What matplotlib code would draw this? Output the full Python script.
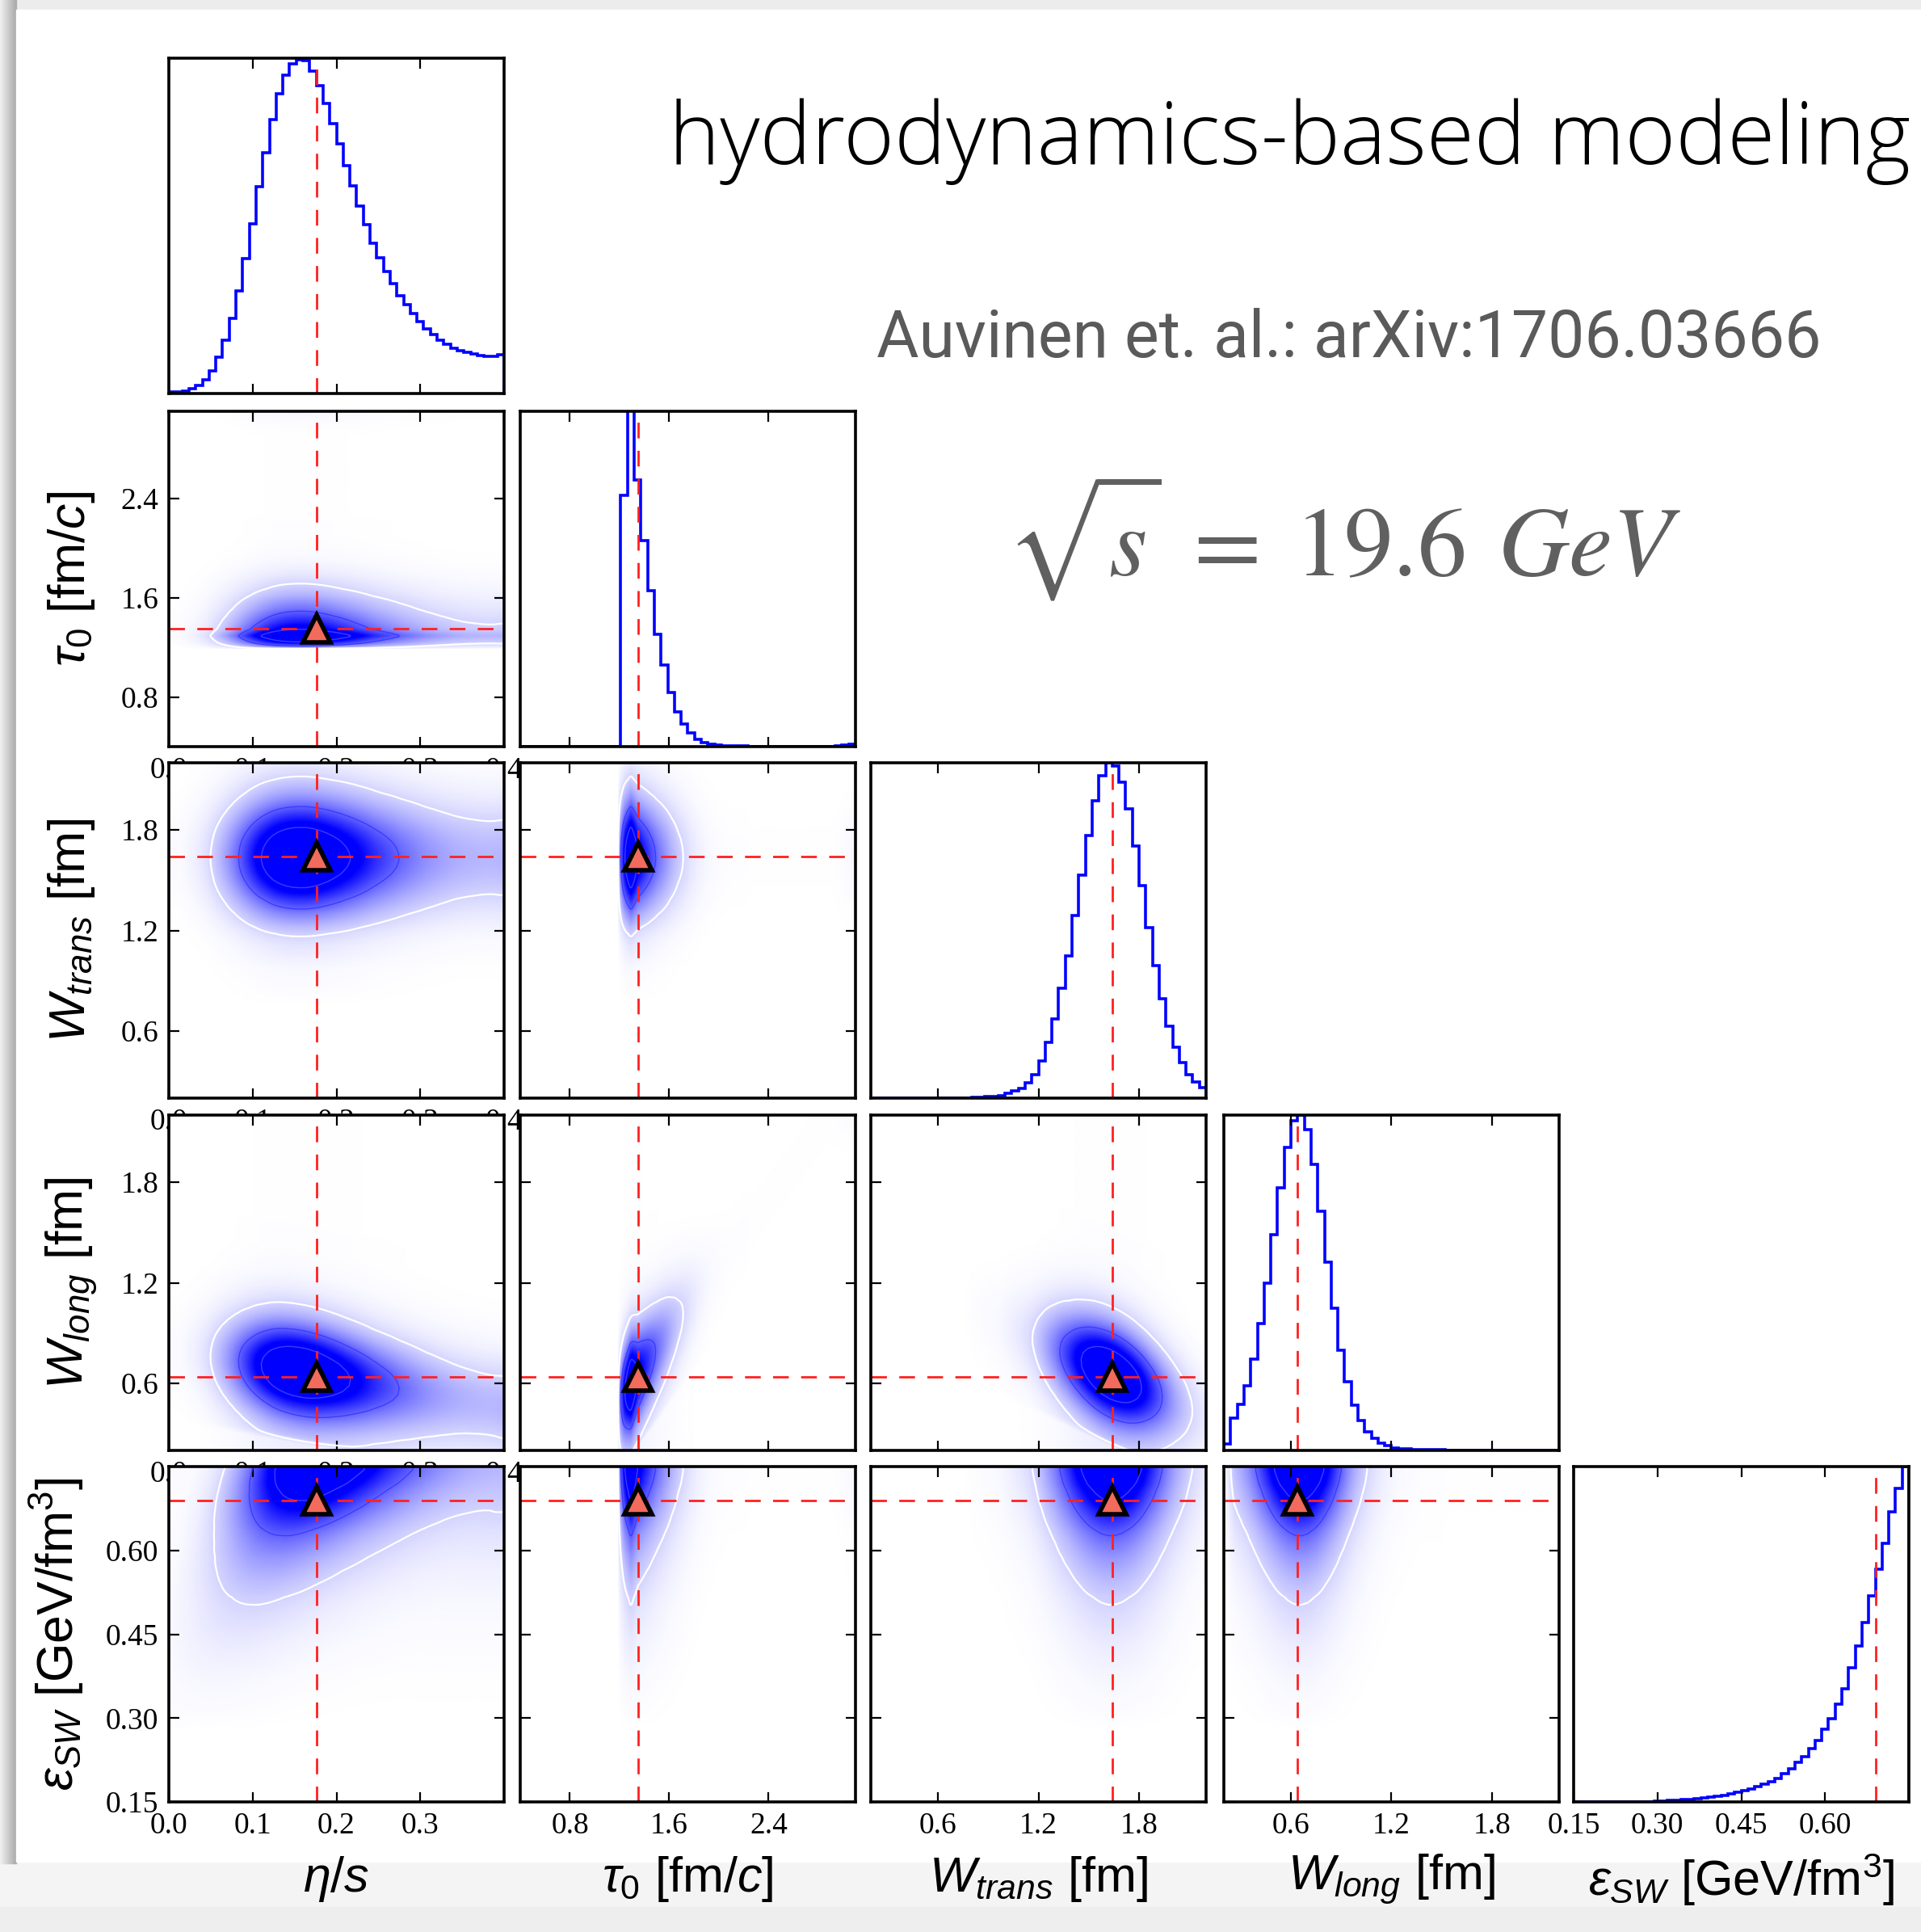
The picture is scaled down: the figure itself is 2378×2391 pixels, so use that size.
import numpy as np
import matplotlib
matplotlib.use("Agg")
import matplotlib.pyplot as plt
from matplotlib.colors import LinearSegmentedColormap, PowerNorm
from matplotlib.patches import Rectangle

plt.rcParams['mathtext.fontset'] = 'custom'
plt.rcParams['mathtext.rm'] = 'Liberation Sans'
plt.rcParams['mathtext.it'] = 'Liberation Sans:italic'
plt.rcParams['mathtext.bf'] = 'Liberation Sans:bold'

W, H = 2378, 2391

# ---- parameters of the corner plot ----
axis_labels = [r'$\eta/s$', r'$\tau_0\ [\mathrm{fm}/c]$', r'$W_{trans}\ [\mathrm{fm}]$',
               r'$W_{long}\ [\mathrm{fm}]$', r'$\epsilon_{SW}\ [\mathrm{GeV}/\mathrm{fm}^3]$']
ranges = [(0.0, 0.4), (0.4, 3.1), (0.2, 2.2), (0.2, 2.2), (0.15, 0.75)]
truth = [0.176, 1.35, 1.64, 0.64, 0.69]
tick_vals = [[0.0, 0.1, 0.2, 0.3, 0.4], [0.8, 1.6, 2.4], [0.6, 1.2, 1.8], [0.6, 1.2, 1.8],
             [0.15, 0.30, 0.45, 0.60]]
tick_text = [['0.0', '0.1', '0.2', '0.3', '0.4'], ['0.8', '1.6', '2.4'], ['0.6', '1.2', '1.8'],
             ['0.6', '1.2', '1.8'], ['0.15', '0.30', '0.45', '0.60']]

# marginal histograms, 50 bins over each range, height as fraction of panel
hist_eta = [0.004, 0.004, 0.008, 0.014, 0.024, 0.04, 0.068, 0.108, 0.158, 0.224,
            0.306, 0.402, 0.506, 0.616, 0.718, 0.818, 0.894, 0.95, 0.984, 0.994,
            0.992, 0.962, 0.918, 0.864, 0.804, 0.744, 0.68, 0.62, 0.56, 0.504,
            0.448, 0.404, 0.364, 0.328, 0.292, 0.264, 0.238, 0.214, 0.192, 0.176,
            0.16, 0.148, 0.136, 0.128, 0.122, 0.118, 0.114, 0.112, 0.112, 0.116]
hist_tau = [0, 0, 0, 0, 0, 0, 0, 0, 0, 0,
            0, 0, 0, 0, 0, 0.75, 1.3, 0.796, 0.614, 0.464,
            0.335, 0.243, 0.161, 0.104, 0.068, 0.04, 0.022, 0.012, 0.007, 0.004,
            0.003, 0.002, 0.002, 0.002, 0.001, 0.001, 0.001, 0.001, 0.001, 0.001,
            0.001, 0.001, 0.001, 0.001, 0.001, 0.001, 0.001, 0.002, 0.004, 0.008]
hist_wtrans = [0, 0, 0, 0, 0, 0, 0, 0, 0, 0,
               0, 0, 0, 0, 0.001, 0.002, 0.003, 0.004, 0.006, 0.008,
               0.014, 0.022, 0.03, 0.045, 0.07, 0.11, 0.167, 0.235, 0.328, 0.424,
               0.545, 0.665, 0.782, 0.886, 0.962, 1.0, 0.99, 0.942, 0.862, 0.753,
               0.633, 0.508, 0.396, 0.296, 0.215, 0.151, 0.107, 0.071, 0.047, 0.031]
hist_wlong = [0.02, 0.096, 0.137, 0.193, 0.273, 0.378, 0.498, 0.643, 0.783, 0.904,
              0.984, 1.0, 0.956, 0.854, 0.713, 0.562, 0.423, 0.30, 0.205, 0.134,
              0.088, 0.056, 0.036, 0.022, 0.014, 0.008, 0.006, 0.004, 0.003, 0.002,
              0.002, 0.002, 0.002, 0.001, 0.001, 0.001, 0.001, 0.001, 0.001, 0.001,
              0.001, 0.001, 0.001, 0.001, 0.001, 0.001, 0.001, 0.001, 0.001, 0.001]
hist_esw = [0, 0, 0, 0, 0, 0, 0, 0, 0, 0,
            0, 0.001, 0.002, 0.003, 0.004, 0.005, 0.0065, 0.0075, 0.009, 0.011,
            0.014, 0.017, 0.02, 0.023, 0.028, 0.033, 0.039, 0.045, 0.052, 0.061,
            0.07, 0.085, 0.099, 0.117, 0.136, 0.16, 0.183, 0.216, 0.249, 0.291,
            0.338, 0.40, 0.465, 0.535, 0.615, 0.695, 0.77, 0.864, 0.934, 1.0]
hists = [hist_eta, hist_tau, hist_wtrans, hist_wlong, hist_esw]

# correlation (shear): (row, col, x-shift per y, y-shift per x)
pair_shear = [(3, 0, 0.0, -0.86), (3, 1, 0.0, 1.0), (3, 2, 0.0, -0.45), (4, 0, 0.3, 0.0)]
contour_outer = 0.06
contour_inner = [0.3, 0.65]

# ---- layout (pixels) ----
col_x = [209, 644, 1078, 1515, 1948]
row_y = [72, 509, 944, 1380, 1815]
size = 415


def box(x, y):
    return [x / W, 1 - (y + size) / H, size / W, size / H]


def marginal(k, pts):
    h = np.asarray(hists[k], dtype=float)
    lo, hi = ranges[k]
    centers = lo + (np.arange(len(h)) + 0.5) * (hi - lo) / len(h)
    return np.interp(pts, centers, h) / h.max()


cmap = LinearSegmentedColormap.from_list('wb', ['white', '#0000ff'])
norm = PowerNorm(gamma=0.8, vmin=0, vmax=0.55)
red = '#ff2020'

fig = plt.figure(figsize=(W / 100, H / 100), dpi=100, facecolor='#f4f4f4')

# slide background with a soft shadow
bg = fig.add_axes([0, 0, 1, 1], zorder=-10)
bg.axis('off')
bg.set_xlim(0, W)
bg.set_ylim(H, 0)
bg.add_patch(Rectangle((0, 0), W, 12, color='#ececec'))
for i in range(20):
    g = 0.94 - 0.014 * i
    bg.add_patch(Rectangle((i, 0), 1, 2306, color=(g, g, g)))
bg.add_patch(Rectangle((20, 12), W - 20, 2292, color='white'))
bg.add_patch(Rectangle((0, 2360), W, H - 2360, color='#eeeeee'))

for r in range(5):
    for c in range(r + 1):
        ax = fig.add_axes(box(col_x[c], row_y[r]))
        ax.set_facecolor('white')
        x0, x1 = ranges[c]
        if r == c:
            edges = np.linspace(x0, x1, len(hists[c]) + 1)
            ax.stairs(hists[c], edges, color='#0000ff', lw=2.6, baseline=0)
            ax.set_ylim(0, 1.0)
            ax.set_yticks([])
            ax.axvline(truth[c], color=red, ls='--', dashes=(7, 5.5), lw=2.0)
        else:
            y0, y1 = ranges[r]
            gx = np.linspace(x0, x1, 260)
            gy = np.linspace(y0, y1, 260)
            X, Y = np.meshgrid(gx, gy)
            a, b = 0.0, 0.0
            for rr, cc, sa, sb in pair_shear:
                if rr == r and cc == c:
                    a, b = sa, sb
            dens = marginal(c, X - a * (Y - truth[r])) * marginal(r, Y - b * (X - truth[c]))
            dens = dens / dens.max()
            ax.imshow(dens, origin='lower', extent=[x0, x1, y0, y1], aspect='auto',
                      cmap=cmap, norm=norm, interpolation='bilinear')
            ax.contour(X, Y, dens, levels=[contour_outer], colors='white', linewidths=1.6)
            ax.contour(X, Y, dens, levels=contour_inner, colors='#3c3cff', linewidths=1.0)
            ax.axvline(truth[c], color=red, ls='--', dashes=(7, 5.5), lw=2.0)
            ax.axhline(truth[r], color=red, ls='--', dashes=(7, 5.5), lw=2.0)
            ax.plot(truth[c], truth[r], marker='^', ms=25, mfc='#f26b5c', mec='black',
                    mew=4.0, zorder=5)
            ax.set_ylim(y0, y1)
            ax.set_yticks(tick_vals[r])
            if c == 0:
                ax.set_yticklabels(tick_text[r])
            else:
                ax.set_yticklabels([])
        ax.set_xlim(x0, x1)
        if r == 4 and c == 0:
            ax.set_xticks(tick_vals[0][:4])
            ax.set_xticklabels(tick_text[0][:4])
        else:
            ax.set_xticks(tick_vals[c])
            if r == 4 or (c == 0 and r > 0):
                ax.set_xticklabels(tick_text[c])
            else:
                ax.set_xticklabels([])
        ax.tick_params(direction='in', top=True, right=True, length=9, width=1.6,
                       labelsize=27, pad=9)
        for lab in ax.get_xticklabels() + ax.get_yticklabels():
            lab.set_family('Liberation Serif')
        for sp in ax.spines.values():
            sp.set_linewidth(2.6)

# axis labels
for c in range(5):
    fig.text((col_x[c] + size / 2) / W, 1 - 2326 / H, axis_labels[c], fontsize=44,
             ha='center', va='center')
ylab_x = [89, 89, 89, 70]
for r in range(1, 5):
    fig.text(ylab_x[r - 1] / W, 1 - (row_y[r] + size / 2) / H, axis_labels[r], fontsize=45,
             rotation=90, ha='center', va='center')

# annotations
fig.text(828 / W, 1 - 203 / H, 'hydrodynamics-based modeling', fontsize=77.3,
         family='Open Sans', weight='light', ha='left', va='baseline', color='black')
fig.text(1085 / W, 1 - 442 / H, 'Auvinen et. al.: arXiv:1706.03666', fontsize=58,
         family='Roboto', weight='normal', ha='left', va='baseline', color='#5a5a5a')
fig.text(1245 / W, 1 - 712 / H, r'$\sqrt{s}\;=\;19.6\;\,GeV$', fontsize=87.5,
         math_fontfamily='stix', ha='left', va='baseline', color='#606060')

fig.savefig('out.png', dpi=100, facecolor=fig.get_facecolor())
